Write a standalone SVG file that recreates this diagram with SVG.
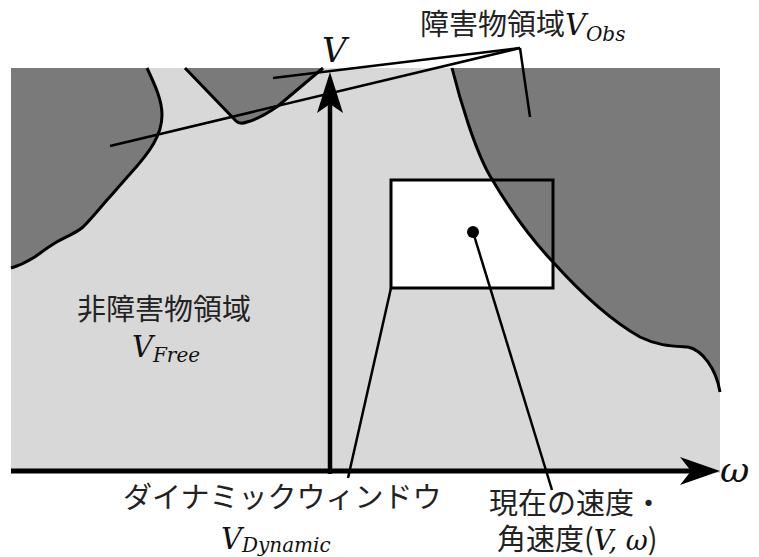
<svg xmlns="http://www.w3.org/2000/svg" width="759" height="557" viewBox="0 0 759 557">
<style>
.cjk{font-family:"Noto Sans CJK JP","Noto Sans",sans-serif;font-size:29px;fill:#222}
.math{font-family:"DejaVu Serif","Liberation Serif",serif;font-style:italic;fill:#111}
.edge{fill:none;stroke:#000;stroke-width:3;stroke-linejoin:round}
.lead{fill:none;stroke:#000;stroke-width:2.5}
.dark{fill:#7a7a7a}
</style>
<rect width="759" height="557" fill="#fff"/>
<g id="space">
<rect x="11" y="68" width="709" height="405" fill="#d8d8d8"/>
</g>
<g id="window">
<rect x="391" y="180" width="162" height="108" fill="#fff"/>
</g>
<g id="obstacles">
<path class="dark" d="M11,68 L147,68 C155,85 162,100 162,115 C162,135 150,152 130,174 C120,185 112,195 107,200 C100,208 92,218 83,227 C75,234 66,236 55,243 C45,249 38,255 33,258 C25,263 18,266 11,268 Z"/>
<path class="edge" d="M147,68 C155,85 162,100 162,115 C162,135 150,152 130,174 C120,185 112,195 107,200 C100,208 92,218 83,227 C75,234 66,236 55,243 C45,249 38,255 33,258 C25,263 18,266 11,268"/>
<path class="dark" d="M185,68 L236,121 Q240,125 247,122 C258,119 268,113 278,106 L323,68 Z"/>
<path class="edge" d="M185,68 L236,121 Q240,125 247,122 C258,119 268,113 278,106 L323,68"/>
<path class="dark" d="M452,68 C460,100 475,150 490,176 C510,210 530,238 553,262 C580,292 610,320 640,337 C658,346 672,346 688,347 C702,350 716,368 720,392 L720,68 Z"/>
<path class="edge" d="M452,68 C460,100 475,150 490,176 C510,210 530,238 553,262 C580,292 610,320 640,337 C658,346 672,346 688,347 C702,350 716,368 720,392"/>
</g>
<g id="window-frame">
<rect x="391" y="180" width="162" height="108" fill="none" stroke="#000" stroke-width="3"/>
</g>
<g id="current">
<circle cx="473" cy="232" r="6" fill="#000"/>
</g>
<g id="connectors">
<line class="lead" x1="273" y1="78" x2="520" y2="48"/>
<line class="lead" x1="110" y1="146" x2="520" y2="48"/>
<line class="lead" x1="520" y1="48" x2="530" y2="117"/>
<line class="lead" x1="391" y1="288" x2="348" y2="478"/>
<line class="lead" x1="473" y1="232" x2="552" y2="490"/>
</g>
<g id="axes">
<line x1="330" y1="474" x2="330" y2="100" stroke="#000" stroke-width="4.5"/>
<polygon points="330,72 343,113 330,104 317,113" fill="#000"/>
<line x1="11" y1="471" x2="692" y2="471" stroke="#000" stroke-width="5"/>
<polygon points="720,471 680,457 691,471 680,485" fill="#000"/>
</g>
<g id="labels">
<text class="math" x="322" y="62" font-size="34">V</text>
<text class="math" x="720" y="482" font-size="36">ω</text>
<text x="420" y="35"><tspan class="cjk">障害物領域</tspan><tspan class="math" font-size="29">V</tspan><tspan class="math" font-size="20" dy="6">Obs</tspan></text>
<text class="cjk" x="77" y="320">非障害物領域</text>
<text x="132" y="357"><tspan class="math" font-size="29">V</tspan><tspan class="math" font-size="20" dy="5">Free</tspan></text>
<text class="cjk" x="123" y="508">ダイナミックウィンドウ</text>
<text x="221" y="549"><tspan class="math" font-size="29">V</tspan><tspan class="math" font-size="20" dy="3">Dynamic</tspan></text>
<text class="cjk" x="489" y="514">現在の速度・</text>
<text x="497" y="550" font-size="27"><tspan class="cjk" font-size="27">角速度(</tspan><tspan class="math">V</tspan><tspan class="math">, ω</tspan><tspan class="cjk" font-size="27">)</tspan></text>
</g>
</svg>
